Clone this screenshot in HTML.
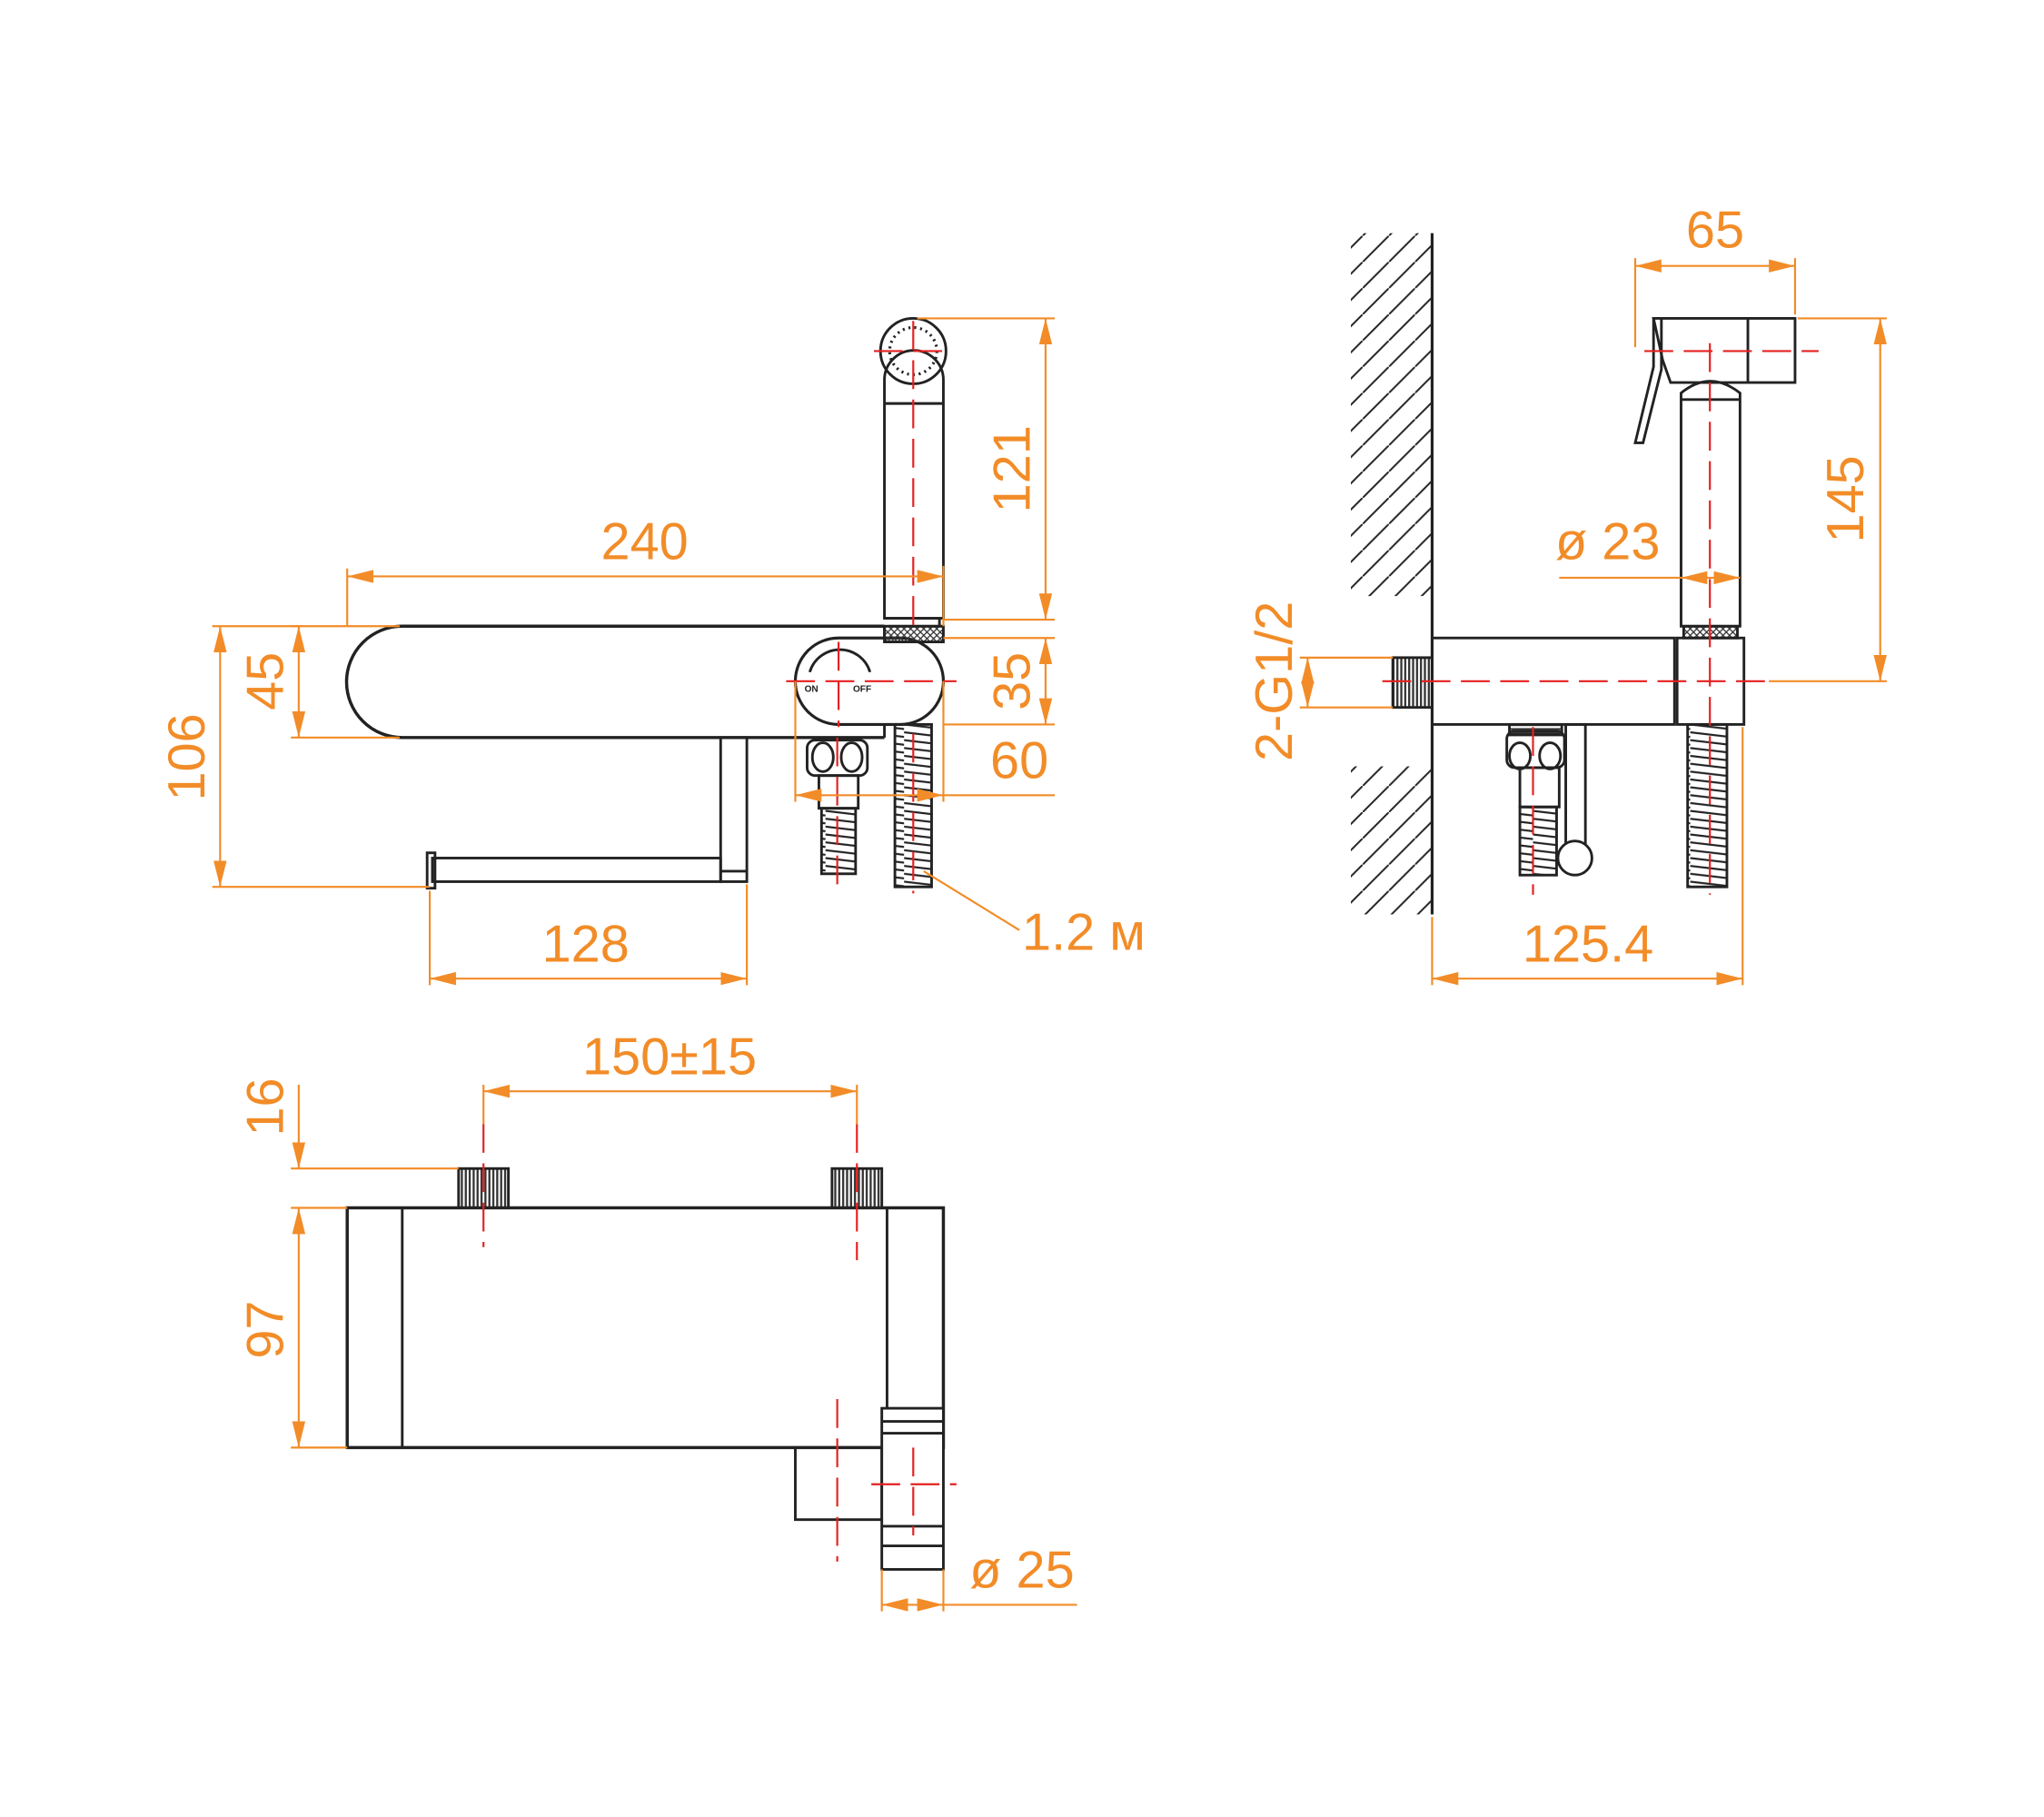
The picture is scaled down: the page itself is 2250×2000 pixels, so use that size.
<!DOCTYPE html>
<html><head><meta charset="utf-8"><style>
html,body{margin:0;padding:0;background:#fff;}
svg{display:block;}
text{font-family:"Liberation Sans",sans-serif;fill:#F28C28;font-size:40px;}
</style></head><body>
<svg width="2250" height="2000" viewBox="0 0 1560 1387" preserveAspectRatio="none" xmlns="http://www.w3.org/2000/svg">
<defs>
<marker id="a" viewBox="0 0 20 10" refX="20" refY="5" markerWidth="20" markerHeight="10" markerUnits="userSpaceOnUse" orient="auto-start-reverse"><path d="M0,0 L20,5 L0,10 Z" fill="#F28C28"/></marker>
<pattern id="hose" width="30" height="6" patternUnits="userSpaceOnUse"><path d="M0,1 L30,4.5" stroke="#222" stroke-width="1.5"/></pattern>
<pattern id="thr" width="3" height="10" patternUnits="userSpaceOnUse"><path d="M1.5,0 V10" stroke="#333" stroke-width="1.6"/></pattern>
<pattern id="thrh" width="10" height="3" patternUnits="userSpaceOnUse"><path d="M0,1.5 H10" stroke="#333" stroke-width="1.4"/></pattern>
<pattern id="hatch" width="20" height="20" patternUnits="userSpaceOnUse"><path d="M-5,25 L25,-5" stroke="#222" stroke-width="1.4"/></pattern>
<pattern id="knurl" width="5" height="5" patternUnits="userSpaceOnUse"><path d="M0,0 L5,5 M5,0 L0,5" stroke="#333" stroke-width="0.9"/></pattern>
</defs>

<g fill="none" stroke="#222" stroke-width="2">
<path d="M675,478 H307 A42,42 0 0 0 307,563 H675" stroke-width="2.4"/>
<path d="M675,478 V487 M675,553 V563" />
<rect x="607" y="487" width="113" height="66" rx="33" stroke-width="2.2"/>
<path d="M618,513 A24,24 0 0 1 664,513" />
<rect x="675" y="478" width="45" height="12" fill="url(#knurl)"/>
<path d="M675,472 V290 A22,22 0 0 1 720,290 V472 Z" />
<path d="M675,308 H720 M675,472 H720 M678,478 H717 V472" />
<circle cx="697" cy="268" r="25"/>
<circle cx="697" cy="268" r="18" stroke-dasharray="1.5,3" stroke-width="2.2"/>
<rect x="550" y="563" width="20" height="110"/>
<path d="M550,665 H570"/>
<rect x="330" y="655" width="220" height="18"/>
<rect x="326" y="651" width="6" height="27"/>
<rect x="616" y="565" width="46" height="27" rx="6"/>
<ellipse cx="628" cy="578" rx="8" ry="11"/><ellipse cx="650" cy="578" rx="8" ry="11"/>
<rect x="625" y="592" width="30" height="25"/>
<rect x="627" y="617" width="26" height="50" fill="url(#hose)"/>
<rect x="683" y="553" width="28" height="124" fill="url(#hose)"/>

<path d="M1093,178 V698" stroke-width="2.2"/>
<rect x="1031" y="178" width="62" height="277" fill="url(#hatch)" stroke="none"/>
<rect x="1031" y="585" width="62" height="113" fill="url(#hatch)" stroke="none"/>
<rect x="1093" y="487" width="185" height="66"/>
<rect x="1280" y="487" width="51" height="66"/>
<rect x="1063" y="502" width="30" height="38" fill="url(#thr)"/>
<path d="M1262,243 H1370 V292 H1275 L1269,275 Z"/>
<path d="M1334,243 V292"/>
<path d="M1262,243 V280 L1248,338 H1254 L1268,282 V243"/>
<path d="M1283,300 Q1305,282 1328,300 V478 H1283 Z"/>
<path d="M1283,305 H1328"/>
<rect x="1285" y="478" width="41" height="9" fill="url(#knurl)"/>
<rect x="1288" y="553" width="30" height="124" fill="url(#hose)"/>
<rect x="1150" y="558" width="44" height="28" rx="6"/>
<ellipse cx="1160" cy="577" rx="8" ry="10"/><ellipse cx="1183" cy="577" rx="8" ry="10"/>
<rect x="1152" y="553" width="40" height="8" fill="url(#thrh)"/>
<rect x="1160" y="586" width="30" height="30"/>
<rect x="1160" y="616" width="28" height="52" fill="url(#hose)"/>
<rect x="1195" y="553" width="15" height="92"/>
<circle cx="1202" cy="655" r="13" fill="#fff"/>

<rect x="265" y="922" width="455" height="183" stroke-width="2.4"/>
<path d="M307,922 V1105 M677,922 V1075"/>
<rect x="350" y="892" width="38" height="30" fill="url(#thr)"/>
<rect x="635" y="892" width="38" height="30" fill="url(#thr)"/>
<rect x="607" y="1105" width="66" height="55"/>
<rect x="673" y="1075" width="47" height="123" fill="#fff"/>
<path d="M673,1085 H720 M673,1094 H720 M673,1165 H720 M673,1180 H720"/>
</g>
<g font-family="Liberation Sans" font-size="7" font-weight="bold">
<text x="614" y="528" style="fill:#222;font-size:7px">ON</text>
<text x="651" y="528" style="fill:#222;font-size:7px">OFF</text>
</g>

<g stroke="#E52020" stroke-width="1.5" fill="none" stroke-dasharray="22,8">
<path d="M697,245 V480 M667,268 H727 M600,520 H730 M640,490 V555 M639,563 V682 M697,560 V682"/>
<path d="M1055,520 H1350 M1255,268 H1388 M1305,262 V683 M1170,555 V683"/>
<path d="M369,858 V952 M654,858 V962 M639,1068 V1192 M697,1105 V1172 M665,1133 H730"/>
</g>

<g stroke="#F28C28" stroke-width="1.5" fill="none">
<path d="M265,440 H720" marker-start="url(#a)" marker-end="url(#a)"/>
<path d="M265,434 V478 M720,432 V478"/>
<path d="M798,243 V473" marker-start="url(#a)" marker-end="url(#a)"/>
<path d="M700,243 H805 M720,473 H805"/>
<path d="M798,487 V553" marker-start="url(#a)" marker-end="url(#a)"/>
<path d="M720,487 H805 M720,553 H805"/>
<path d="M607,607 H720" marker-start="url(#a)" marker-end="url(#a)"/>
<path d="M607,520 V612 M720,520 V612 M720,607 H805"/>
<path d="M228,478 V563" marker-start="url(#a)" marker-end="url(#a)"/>
<path d="M222,478 H305 M222,563 H305"/>
<path d="M168,478 V677" marker-start="url(#a)" marker-end="url(#a)"/>
<path d="M162,478 H230 M162,677 H328"/>
<path d="M328,747 H570" marker-start="url(#a)" marker-end="url(#a)"/>
<path d="M328,680 V752 M570,675 V752"/>
<path d="M705,665 L778,710"/>
<path d="M1248,203 H1370" marker-start="url(#a)" marker-end="url(#a)"/>
<path d="M1248,197 V265 M1370,197 V240"/>
<path d="M1435,243 V520" marker-start="url(#a)" marker-end="url(#a)"/>
<path d="M1372,243 H1440 M1350,520 H1440"/>
<path d="M1190,441 H1283"/>
<path d="M1283,441 H1328" marker-start="url(#a)" marker-end="url(#a)"/>
<path d="M998,502 V540" marker-start="url(#a)" marker-end="url(#a)"/>
<path d="M992,502 H1063 M992,540 H1063"/>
<path d="M1093,747 H1330" marker-start="url(#a)" marker-end="url(#a)"/>
<path d="M1093,700 V752 M1330,555 V752"/>
<path d="M369,833 H654" marker-start="url(#a)" marker-end="url(#a)"/>
<path d="M369,828 V858 M654,828 V858"/>
<path d="M228,828 V892" marker-end="url(#a)"/>
<path d="M228,922 V1105" marker-start="url(#a)" marker-end="url(#a)"/>
<path d="M222,892 H350 M222,922 H265 M222,1105 H265"/>
<path d="M673,1225 H720" marker-start="url(#a)" marker-end="url(#a)"/>
<path d="M720,1225 H822 M673,1198 V1230 M720,1198 V1230"/>
</g>

<g>
<text x="492" y="427" text-anchor="middle">240</text>
<text transform="translate(786,358) rotate(-90)" text-anchor="middle">121</text>
<text transform="translate(786,520) rotate(-90)" text-anchor="middle">35</text>
<text x="778" y="594" text-anchor="middle">60</text>
<text transform="translate(216,520) rotate(-90)" text-anchor="middle">45</text>
<text transform="translate(156,578) rotate(-90)" text-anchor="middle">106</text>
<text x="447" y="734" text-anchor="middle">128</text>
<text x="780" y="725">1.2 м</text>
<text x="1309" y="189" text-anchor="middle">65</text>
<text transform="translate(1422,381) rotate(-90)" text-anchor="middle">145</text>
<text x="1227" y="427" text-anchor="middle">ø 23</text>
<text transform="translate(986,520) rotate(-90)" text-anchor="middle">2-G1/2</text>
<text x="1212" y="734" text-anchor="middle">125.4</text>
<text x="511" y="820" text-anchor="middle">150±15</text>
<text transform="translate(216,845) rotate(-90)" text-anchor="middle">16</text>
<text transform="translate(216,1015) rotate(-90)" text-anchor="middle">97</text>
<text x="780" y="1212" text-anchor="middle">ø 25</text>
</g>
</svg>
</body></html>
